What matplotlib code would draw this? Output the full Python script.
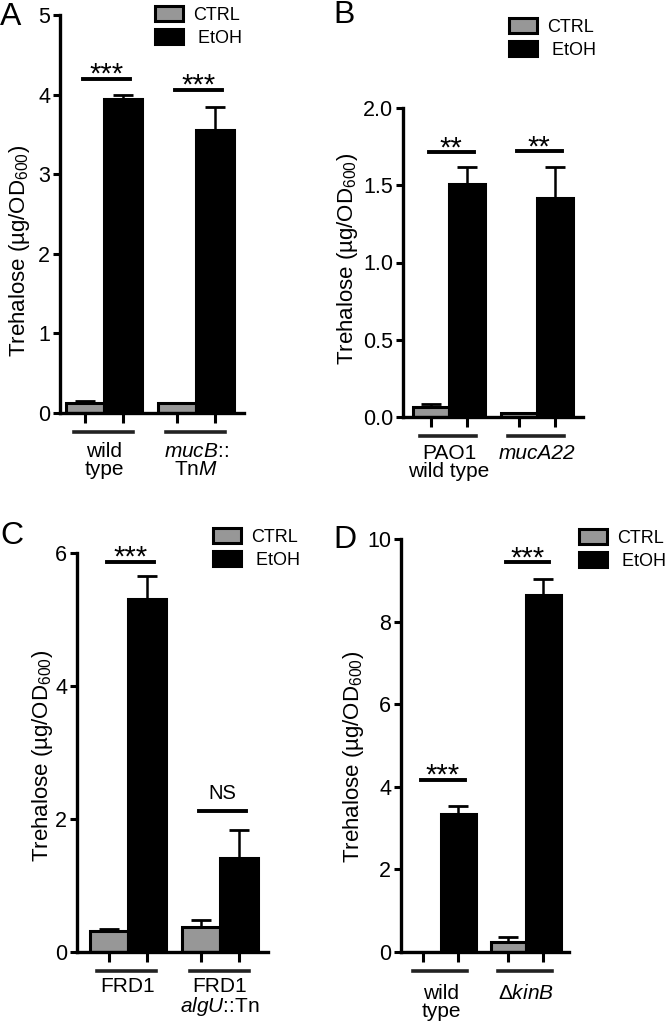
import matplotlib
matplotlib.use('Agg')
import matplotlib.pyplot as plt
import matplotlib.transforms as mtransforms
from matplotlib.patches import Patch

plt.rcParams['font.family'] = ['Liberation Sans', 'DejaVu Sans']
plt.rcParams['mathtext.fontset'] = 'custom'
plt.rcParams['mathtext.rm'] = 'Liberation Sans'
plt.rcParams['mathtext.it'] = 'Liberation Sans:italic'
plt.rcParams['mathtext.bf'] = 'Liberation Sans:bold'

W, H = 666, 1031
GRAY = '#979797'

# ---- data ----
a_groups = ['wild\ntype', '$\\mathit{mucB}$::\nTn$\\mathit{M}$']
a_italic = [False, False]
a_ctrl = [0.12, 0.13]
a_ctrl_err = [0.03, 0.0]
a_etoh = [3.95, 3.56]
a_etoh_err = [0.05, 0.28]
a_sig = ['***', '***']
a_sig_y = [4.20, 4.06]
a_yticks = [0, 1, 2, 3, 4, 5]
a_yticklabels = ['0', '1', '2', '3', '4', '5']

b_groups = ['PAO1\nwild type', 'mucA22']
b_italic = [False, True]
b_ctrl = [0.065, 0.028]
b_ctrl_err = [0.021, 0.0]
b_etoh = [1.507, 1.42]
b_etoh_err = [0.11, 0.20]
b_sig = ['**', '**']
b_sig_y = [1.715, 1.72]
b_yticks = [0.0, 0.5, 1.0, 1.5, 2.0]
b_yticklabels = ['0.0', '0.5', '1.0', '1.5', '2.0']

c_groups = ['FRD1', 'FRD1\n$\\mathit{algU}$::Tn']
c_italic = [False, False]
c_ctrl = [0.31, 0.37]
c_ctrl_err = [0.03, 0.11]
c_etoh = [5.31, 1.42]
c_etoh_err = [0.35, 0.42]
c_sig = ['***', 'NS']
c_sig_y = [5.87, 2.12]
c_yticks = [0, 2, 4, 6]
c_yticklabels = ['0', '2', '4', '6']

d_groups = ['wild\ntype', '$\\Delta\\mathit{kinB}$']
d_italic = [False, False]
d_ctrl = [0.0, 0.24]
d_ctrl_err = [0.0, 0.12]
d_etoh = [3.34, 8.65]
d_etoh_err = [0.19, 0.39]
d_sig = ['***', '***']
d_sig_y = [4.17, 9.44]
d_yticks = [0, 2, 4, 6, 8, 10]
d_yticklabels = ['0', '2', '4', '6', '8', '10']

# layout in pixels: axes box (left, top, right, bottom), xlim, legend pos, ylabel center, letter pos, label offset
panels = [
    dict(letter='A', box=(60, 15, 244, 413), xlim=(-0.48, 1.52), leg=(155, 6), ylab=(20, 251), let=(0, 2), lab_off=21,
         groups=a_groups, italic=a_italic, ctrl=a_ctrl, ctrl_err=a_ctrl_err, etoh=a_etoh, etoh_err=a_etoh_err,
         sig=a_sig, sig_y=a_sig_y, yticks=a_yticks, yticklabels=a_yticklabels),
    dict(letter='B', box=(403, 108, 583, 417), xlim=(-0.52, 1.52), leg=(509, 18), ylab=(348, 259), let=(333, 0), lab_off=19.5,
         groups=b_groups, italic=b_italic, ctrl=b_ctrl, ctrl_err=b_ctrl_err, etoh=b_etoh, etoh_err=b_etoh_err,
         sig=b_sig, sig_y=b_sig_y, yticks=b_yticks, yticklabels=b_yticklabels),
    dict(letter='C', box=(77, 553, 268, 952), xlim=(-0.55, 1.52), leg=(213, 528), ylab=(43, 756), let=(0, 521), lab_off=18,
         groups=c_groups, italic=c_italic, ctrl=c_ctrl, ctrl_err=c_ctrl_err, etoh=c_etoh, etoh_err=c_etoh_err,
         sig=c_sig, sig_y=c_sig_y, yticks=c_yticks, yticklabels=c_yticklabels),
    dict(letter='D', box=(401, 539, 569, 952), xlim=(-0.47, 1.51), leg=(579, 529), ylab=(354, 757), let=(333, 525), lab_off=23,
         groups=d_groups, italic=d_italic, ctrl=d_ctrl, ctrl_err=d_ctrl_err, etoh=d_etoh, etoh_err=d_etoh_err,
         sig=d_sig, sig_y=d_sig_y, yticks=d_yticks, yticklabels=d_yticklabels),
]

fig = plt.figure(figsize=(W / 100, H / 100), dpi=100)
width = 0.41

for p in panels:
    l, t, r, b = p['box']
    ax = fig.add_axes([l / W, 1 - b / H, (r - l) / W, (b - t) / H])
    x = range(len(p['groups']))
    xc = [i - width / 2 for i in x]
    xe = [i + width / 2 for i in x]

    ax.bar(xc, p['ctrl'], width, color=GRAY, edgecolor='black', linewidth=2.2, zorder=2)
    ax.bar(xe, p['etoh'], width, color='black', edgecolor='black', linewidth=2.2, zorder=2)
    ax.errorbar(xc, p['ctrl'], yerr=[[0] * len(xc), p['ctrl_err']], fmt='none', ecolor='black',
                elinewidth=1.8, capsize=7, capthick=2, zorder=3)
    ax.errorbar(xe, p['etoh'], yerr=[[0] * len(xe), p['etoh_err']], fmt='none', ecolor='black',
                elinewidth=1.8, capsize=7, capthick=2, zorder=3)

    ax.set_xlim(*p['xlim'])
    ax.set_ylim(p['yticks'][0], p['yticks'][-1])
    ax.set_yticks(p['yticks'])
    ax.set_yticklabels(p['yticklabels'], fontsize=15.5)
    ax.set_xticks(xc + xe)
    ax.set_xticklabels([])
    ax.tick_params(axis='y', length=5, width=2.2, pad=2)
    ax.tick_params(axis='x', length=7, width=2.2)
    for s in ['top', 'right']:
        ax.spines[s].set_visible(False)
    for s in ['left', 'bottom']:
        ax.spines[s].set_linewidth(2.4)
        ax.spines[s].set_zorder(4)
    ax.patch.set_alpha(0)

    # group underline and names
    trans = mtransforms.blended_transform_factory(ax.transData, ax.transAxes)
    line_tr = mtransforms.offset_copy(trans, fig=fig, y=-13.5, units='points')
    for i, name in enumerate(p['groups']):
        ax.plot([i - 0.33, i + 0.31], [0, 0], color='#222222', lw=2.6, transform=line_tr, clip_on=False)
        ax.annotate(name, xy=(i, 0), xycoords=trans, xytext=(0, -p['lab_off']), textcoords='offset points',
                    ha='center', va='top', fontsize=15, linespacing=0.92, annotation_clip=False,
                    fontstyle='italic' if p['italic'][i] else 'normal')

    # significance bars
    for i, (s, y) in enumerate(zip(p['sig'], p['sig_y'])):
        ax.plot([i - 0.23, i + 0.28], [y, y], color='black', lw=2.8, clip_on=False)
        if s == 'NS':
            ax.annotate(s, xy=(i + 0.025, y), xytext=(0, 8.5), textcoords='offset points',
                        ha='center', va='baseline', fontsize=14.5, annotation_clip=False)
        else:
            ax.annotate(s, xy=(i + 0.025, y), xytext=(0, -3), textcoords='offset points',
                        ha='center', va='baseline', fontsize=21, annotation_clip=False)

    handles = [Patch(facecolor=GRAY, edgecolor='black', linewidth=2.2, label='CTRL'),
               Patch(facecolor='black', edgecolor='black', linewidth=2.2, label=' EtOH')]
    lx, ly = p['leg']
    fig.legend(handles=handles, loc='upper left', bbox_to_anchor=(lx / W, 1 - ly / H),
               bbox_transform=fig.transFigure, frameon=False, fontsize=13, borderpad=0,
               borderaxespad=0, handlelength=1.55, handleheight=0.88, handletextpad=0.55,
               labelspacing=0.3)

    yx, yy = p['ylab']
    fig.text(yx / W, 1 - yy / H, 'Trehalose (µg/OD$_{600}$)', rotation=90, ha='center', va='center',
             fontsize=16)
    lx0, ly0 = p['let']
    fig.text(lx0 / W, 1 - ly0 / H, p['letter'], ha='left', va='top', fontsize=23)

fig.savefig('out.png', dpi=100)
